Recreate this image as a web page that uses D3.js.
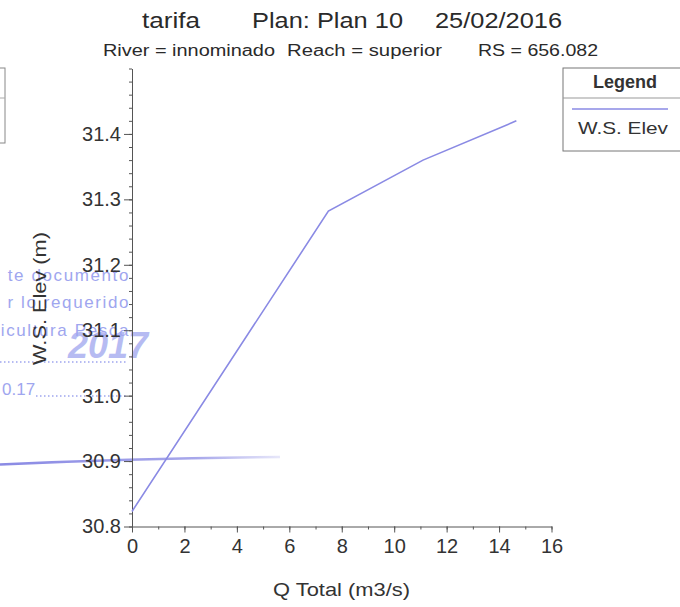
<!DOCTYPE html>
<html>
<head>
<meta charset="utf-8">
<script src="https://cdn.jsdelivr.net/npm/d3@7"></script>
<style>
  html, body { margin: 0; padding: 0; background: #fff; }
  svg { display: block; }
  text { font-family: "Liberation Sans", Arial, sans-serif; fill: #333; }
</style>
</head>
<body>
<svg id="chart" width="680" height="607"></svg>
<script>
// ---- data ----
const qTotal = [0, 7.49, 11.1, 14.66];
const wsElev = [30.823, 31.282, 31.36, 31.42];
const xTickLabels = [0, 2, 4, 6, 8, 10, 12, 14, 16];
const yTickLabels = [30.8, 30.9, 31.0, 31.1, 31.2, 31.3, 31.4];
const seriesName = "W.S. Elev";
const titleParts = ["tarifa", "Plan: Plan 10", "25/02/2016"];
const subtitleParts = ["River = innominado", "Reach = superior", "RS = 656.082"];
const stampLines = ["te  documento", "r  lo  requerido", "icultura  Pesca"];

const svg = d3.select("#chart");
const lineColor = "#8a8ae4";
const stampColor = "#8890ec";
const axisColor = "#555";

const x = d3.scaleLinear().domain([0, 16]).range([132, 551.5]);
const y = d3.scaleLinear().domain([30.8, 31.5]).range([526.5, 68.5]);

// ---- title ----
const tX = [142, 252, 435], tL = [58, 151, 127];
svg.selectAll("text.title").data(titleParts).join("text")
  .attr("class", "title")
  .attr("x", (d, i) => tX[i]).attr("y", 28)
  .attr("textLength", (d, i) => tL[i]).attr("lengthAdjust", "spacingAndGlyphs")
  .style("font-size", "22px").style("fill", "#2a2a2a")
  .text(d => d);
const sX = [103, 287, 478], sL = [172, 155, 120];
svg.selectAll("text.sub").data(subtitleParts).join("text")
  .attr("class", "sub")
  .attr("x", (d, i) => sX[i]).attr("y", 56)
  .attr("textLength", (d, i) => sL[i]).attr("lengthAdjust", "spacingAndGlyphs")
  .style("font-size", "16px").style("fill", "#2a2a2a")
  .text(d => d);

// ---- partial box at left edge ----
svg.append("rect").attr("x", -10).attr("y", 68).attr("width", 15).attr("height", 75)
  .attr("fill", "none").attr("stroke", "#888").attr("stroke-width", 1);
svg.append("line").attr("x1", -10).attr("x2", 5).attr("y1", 98).attr("y2", 98)
  .attr("stroke", "#aaa").attr("stroke-width", 1);

// ---- stamp overlay (scan artefact, drawn beneath the chart) ----
const stamp = svg.append("g").attr("opacity", 0.8);
const stampY = [281, 308, 336];
stamp.selectAll("text").data(stampLines).join("text")
  .attr("x", 130).attr("y", (d, i) => stampY[i]).attr("text-anchor", "end")
  .style("font-size", "17px").style("fill", stampColor).style("letter-spacing", "1.6px")
  .text(d => d);
stamp.append("text").attr("x", 68).attr("y", 358)
  .style("font-size", "36px").style("font-style", "italic").style("font-weight", "bold")
  .style("fill", stampColor).attr("opacity", 0.75).text("2017");
stamp.append("text").attr("x", 2).attr("y", 395)
  .style("font-size", "17px").style("fill", stampColor).text("0.17");
stamp.append("line").attr("x1", 0).attr("x2", 128).attr("y1", 362).attr("y2", 362)
  .attr("stroke", stampColor).attr("stroke-width", 1.5).attr("stroke-dasharray", "1.5,2.5");
stamp.append("line").attr("x1", 36).attr("x2", 128).attr("y1", 396).attr("y2", 396)
  .attr("stroke", stampColor).attr("stroke-width", 1.5).attr("stroke-dasharray", "1.5,2.5");
const grad = svg.append("defs").append("linearGradient").attr("id", "fade")
  .attr("x1", "0%").attr("x2", "100%");
grad.append("stop").attr("offset", "0%").attr("stop-color", lineColor).attr("stop-opacity", 1);
grad.append("stop").attr("offset", "70%").attr("stop-color", lineColor).attr("stop-opacity", 0.75);
grad.append("stop").attr("offset", "100%").attr("stop-color", lineColor).attr("stop-opacity", 0.2);
svg.append("path").attr("d", "M0,464.5 Q140,458 280,457")
  .attr("fill", "none").attr("stroke", "url(#fade)").attr("stroke-width", 2.4);

// ---- axes ----
const gx = svg.append("g").attr("transform", `translate(0,${y(30.8)})`);
gx.call(d3.axisBottom(x).tickValues(d3.range(0, 17, 1)).tickSize(3).tickFormat(""));
gx.call(g => g.select(".domain").remove());
const gxMajor = svg.append("g").attr("transform", `translate(0,${y(30.8)})`)
  .call(d3.axisBottom(x).tickValues(xTickLabels).tickSize(6).tickSizeOuter(0).tickPadding(6).tickFormat(d3.format("d")));
gxMajor.selectAll("text").style("font-size", "20px").style("fill", "#333");

const gy = svg.append("g").attr("transform", `translate(${x(0)},0)`);
gy.call(d3.axisLeft(y).tickValues(y.ticks(35)).tickSize(3).tickFormat(""));
gy.call(g => g.select(".domain").remove());
const gyMajor = svg.append("g").attr("transform", `translate(${x(0)},0)`)
  .call(d3.axisLeft(y).tickValues(yTickLabels).tickSize(8).tickSizeOuter(0).tickPadding(3).tickFormat(d3.format(".1f")));
gyMajor.selectAll("text").style("font-size", "20px").style("fill", "#333");

svg.selectAll(".domain, .tick line").attr("stroke", axisColor).attr("stroke-width", 1);

// axis titles
svg.append("text").attr("x", 273).attr("y", 596)
  .attr("textLength", 137).attr("lengthAdjust", "spacingAndGlyphs")
  .style("font-size", "19px").text("Q Total  (m3/s)");
svg.append("text").attr("transform", "translate(46,365) rotate(-90)")
  .attr("textLength", 133).attr("lengthAdjust", "spacingAndGlyphs")
  .style("font-size", "19px").text("W.S. Elev (m)");

// ---- data line ----
const pts = qTotal.map((q, i) => [q, wsElev[i]]);
svg.append("path").datum(pts)
  .attr("fill", "none").attr("stroke", lineColor).attr("stroke-width", 1.6)
  .attr("d", d3.line().x(d => x(d[0])).y(d => y(d[1])));

// ---- legend ----
const lg = svg.append("g");
lg.append("rect").attr("x", 563).attr("y", 68).attr("width", 130).attr("height", 83)
  .attr("fill", "#fff").attr("stroke", "#777").attr("stroke-width", 1);
lg.append("line").attr("x1", 563).attr("x2", 693).attr("y1", 98).attr("y2", 98)
  .attr("stroke", "#999").attr("stroke-width", 1);
lg.append("text").attr("x", 625).attr("y", 88).attr("text-anchor", "middle")
  .style("font-size", "18px").style("font-weight", "bold").style("fill", "#333").text("Legend");
lg.append("line").attr("x1", 572).attr("x2", 668).attr("y1", 109).attr("y2", 109)
  .attr("stroke", lineColor).attr("stroke-width", 1.4);
lg.append("text").attr("x", 578).attr("y", 134)
  .attr("textLength", 90).attr("lengthAdjust", "spacingAndGlyphs")
  .style("font-size", "17px").style("fill", "#333").text(seriesName);
</script>
</body>
</html>
